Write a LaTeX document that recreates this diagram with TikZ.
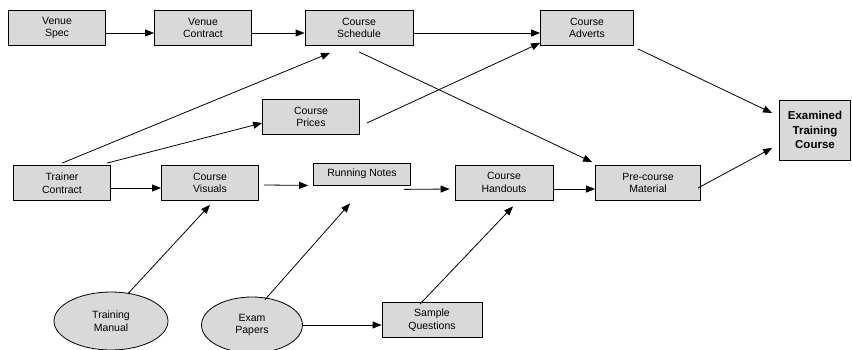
\documentclass[tikz,border=0pt]{standalone}
\usepackage{fontspec}
\setmainfont{Liberation Sans}
\usetikzlibrary{shapes.geometric, arrows.meta}
\definecolor{boxgrey}{RGB}{217,217,217}
\tikzstyle{task} = [rectangle, minimum width=97pt, minimum height=35pt, align=center,
draw=black, fill=boxgrey, font=\fontsize{10.5}{12.5}\selectfont, inner sep=1pt]
\tikzstyle{source} = [ellipse, minimum width=112pt, minimum height=58pt, align=center,
draw=black, fill=boxgrey, font=\fontsize{10.5}{12.5}\selectfont, inner sep=1pt]
\tikzstyle{goal} = [rectangle, minimum width=71pt, minimum height=60pt, align=center,
draw=black, fill=boxgrey, font=\fontsize{11.5}{14.5}\selectfont\bfseries, inner sep=1pt]
\tikzstyle{arrow} =
[line width=0.8pt, -{Triangle[length=9pt, width=7pt]}]

\begin{document}
\begin{tikzpicture}[x=1pt, y=-1pt, line width=0.8pt]
\useasboundingbox (0,0) rectangle (852,349);

\node(vspec)[task] at (57,28){Venue\\Spec};
\node(vcontract)[task] at (203,28){Venue\\Contract};
\node(sched)[task, minimum width=108pt] at (359,28){Course\\Schedule};
\node(adverts)[task, minimum width=93pt] at (587,28){Course\\Adverts};
\node(prices)[task] at (311,117){Course\\Prices};
\node(exam)[goal] at (815,130){Examined\\Training\\Course};
\node(trainer)[task] at (62,183){Trainer\\Contract};
\node(visuals)[task] at (210,183){Course\\Visuals};
\node(notes)[task, minimum height=22pt] at (362,174){Running Notes};
\node(handouts)[task, minimum width=98pt] at (504,182.5){Course\\Handouts};
\node(precourse)[task, minimum width=105pt] at (648,183){Pre-course\\Material};
\node(sampleq)[task, minimum width=100pt] at (432,320){Sample\\Questions};
\node(manual)[source, minimum width=114pt] at (111,321){Training\\Manual};
\node(papers)[source, minimum width=101pt, minimum height=56pt] at (252,325){Exam\\Papers};

\draw[arrow]([yshift=-5pt]vspec.east) -- ([yshift=-5pt]vcontract.west);
\draw[arrow]([yshift=-5pt]vcontract.east) -- ([yshift=-5pt]sched.west);
\draw[arrow]([yshift=-5pt]sched.east) -- ([yshift=-5pt]adverts.west);
\draw[arrow]([yshift=2pt]trainer.north) -- ([xshift=-29pt,yshift=-7pt]sched.south);
\draw[arrow]([xshift=-4pt,yshift=2pt]trainer.north east) -- ([yshift=-6pt]prices.west);
\draw[arrow]([xshift=7pt,yshift=-6pt]prices.east) -- ([yshift=3pt]adverts.south west);
\draw[arrow]([yshift=-6pt]sched.south) -- ([xshift=-3pt,yshift=3pt]precourse.north west);
\draw[arrow]([xshift=4pt,yshift=-3pt]adverts.south east) -- ([xshift=-7pt,yshift=17pt]exam.west);
\draw[arrow]([xshift=-3pt,yshift=-5pt]precourse.east) -- ([xshift=-7pt,yshift=-18pt]exam.west);
\draw[arrow]([yshift=-5pt]trainer.east) -- ([yshift=-5pt]visuals.west);
\draw[arrow]([xshift=5pt,yshift=-2pt]visuals.east) -- ([xshift=-5pt]notes.south west);
\draw[arrow]([xshift=-7pt,yshift=-4pt]notes.south east) -- ([xshift=-5pt,yshift=-6.5pt]handouts.west);
\draw[arrow]([yshift=-6.5pt]handouts.east) -- ([yshift=-6pt]precourse.west);
\draw[arrow]([xshift=17pt,yshift=-2pt]manual.north) -- ([yshift=-4pt]visuals.south);
\draw[arrow]([xshift=13pt,yshift=-3pt]papers.north) -- ([xshift=-12pt,yshift=-18pt]notes.south);
\draw[arrow](papers.east) -- (papers.east -| sampleq.west);
\draw[arrow]([xshift=-12pt,yshift=-2pt]sampleq.north) -- ([xshift=9pt,yshift=-6pt]handouts.south);

\end{tikzpicture}
\end{document}
